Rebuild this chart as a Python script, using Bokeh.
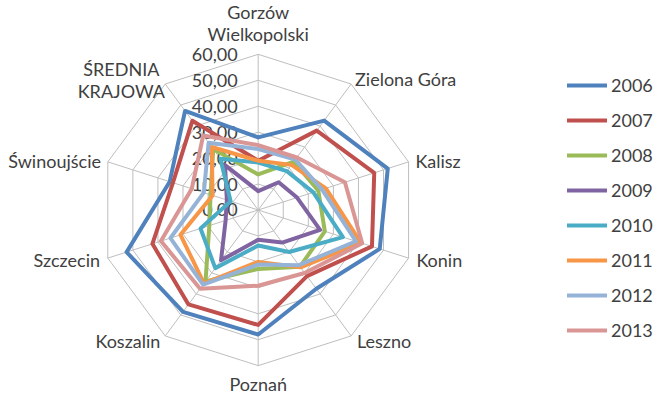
import math
from bokeh.plotting import figure
from bokeh.models import Range1d, Legend, LegendItem, ColumnDataSource
from bokeh.core.properties import value
from bokeh.embed import file_html
from bokeh.resources import INLINE

# ---------------- data ----------------
categories = ["Gorzów\nWielkopolski", "Zielona Góra", "Kalisz", "Konin", "Leszno",
              "Poznań", "Koszalin", "Szczecin", "Świnoujście", "ŚREDNIA\nKRAJOWA"]
years = ["2006", "2007", "2008", "2009", "2010", "2011", "2012", "2013"]
v2006 = [28.0, 42.6, 51.7, 48.5, 37.5, 48.0, 48.5, 52.5, 35.3, 47.2]
v2007 = [19.0, 37.8, 46.3, 45.4, 31.5, 44.3, 45.0, 42.2, 34.0, 42.5]
v2008 = [13.7, 23.0, 24.0, 26.6, 27.0, 22.7, 34.0, 19.5, 19.0, 29.0]
v2009 = [7.3, 13.2, 15.5, 24.7, 15.5, 11.5, 24.0, 13.0, 12.5, 21.4]
v2010 = [18.3, 18.5, 22.0, 33.8, 20.0, 13.7, 27.7, 23.0, 11.0, 24.4]
v2011 = [19.0, 21.5, 27.0, 41.0, 27.3, 20.0, 35.0, 31.0, 18.2, 30.0]
v2012 = [23.5, 24.0, 25.5, 39.0, 26.3, 21.0, 35.6, 35.0, 21.7, 32.0]
v2013 = [25.0, 25.0, 34.6, 41.5, 30.0, 29.2, 37.5, 38.8, 26.5, 35.5]
series = [v2006, v2007, v2008, v2009, v2010, v2011, v2012, v2013]
ticks = [0, 10, 20, 30, 40, 50, 60]

# ---------------- style / layout ----------------
colors = ["#4F81BD", "#C0504D", "#9BBB59", "#8064A2", "#4BACC6", "#F79646", "#95B3D7", "#D99694"]
FONT = "Lato"
FS = "18px"
TXT = "#404040"
W, H = 653, 394
# geometry expressed in a 669x410 design space, scaled onto the figure
DW, DH = 669, 410
CX, CY = 264, 218          # centre of the radar (design pixels)
PX = 2.7                   # design pixels per value unit
RMAX = 60

# label offsets (design pixels) relative to the outer vertex, alignment
lab_off = [(0, -44, "center"), (4, -5, "left"), (7, -1, "left"), (8, 2, "left"),
           (6, 5, "left"), (0, 19, "center"), (-5, 5, "right"), (-8, 2, "right"),
           (-7, -1, "right"), (-45, -16, "center")]
LH = 23

p = figure(width=W, height=H, output_backend="svg", toolbar_location=None,
           x_range=Range1d(-CX / PX, (DW - CX) / PX),
           y_range=Range1d(-(DH - CY) / PX, CY / PX),
           min_border=0)
p.axis.visible = False
p.grid.visible = False
p.outline_line_color = None

n = len(categories)
ang = [2 * math.pi * i / n for i in range(n)]


def pt(r, a):
    return r * math.sin(a), r * math.cos(a)


# grid rings
for t in ticks[1:]:
    xs = [pt(t, a)[0] for a in ang] + [pt(t, ang[0])[0]]
    ys = [pt(t, a)[1] for a in ang] + [pt(t, ang[0])[1]]
    p.line(xs, ys, line_color="#BEBEBE", line_width=1)
# spokes
for a in ang:
    x1, y1 = pt(RMAX, a)
    p.line([0, x1], [0, y1], line_color="#BEBEBE", line_width=1)

# tick labels
p.text(x=[-21 / PX] * len(ticks), y=ticks,
       text=[f"{t:.2f}".replace(".", ",") for t in ticks],
       text_align="right", text_baseline="middle", text_color=TXT,
       text_font=value(FONT), text_font_size=value(FS))

# category labels
lx, ly, lt, la = [], [], [], []
for i, cat in enumerate(categories):
    vx, vy = pt(RMAX, ang[i])
    dx, dy, al = lab_off[i]
    for j, line in enumerate(cat.split("\n")):
        lx.append(vx + dx / PX)
        ly.append(vy - (dy + j * LH) / PX)
        lt.append(line)
        la.append(al)
src = ColumnDataSource(dict(x=lx, y=ly, text=lt, align=la))
p.text(x="x", y="y", text="text", source=src, text_align="align",
       text_baseline="middle", text_color=TXT,
       text_font=value(FONT), text_font_size=value(FS))

# series
items = []
for yr, vals, c in zip(years, series, colors):
    xs = [pt(v, a)[0] for v, a in zip(vals, ang)]
    ys = [pt(v, a)[1] for v, a in zip(vals, ang)]
    xs.append(xs[0]); ys.append(ys[0])
    r = p.line(xs, ys, line_color=c, line_width=4, line_join="round", line_cap="round")
    items.append(LegendItem(label=yr, renderers=[r]))

legend = Legend(items=items, location=(567, 53), padding=0, margin=0,
                border_line_color=None, background_fill_alpha=0,
                glyph_width=40, glyph_height=20, label_height=20, spacing=13,
                label_standoff=4, label_text_font=FONT, label_text_font_size=FS,
                label_text_color=TXT, label_text_baseline="middle")
p.add_layout(legend)

open("out.html", "w").write(file_html(p, INLINE))
